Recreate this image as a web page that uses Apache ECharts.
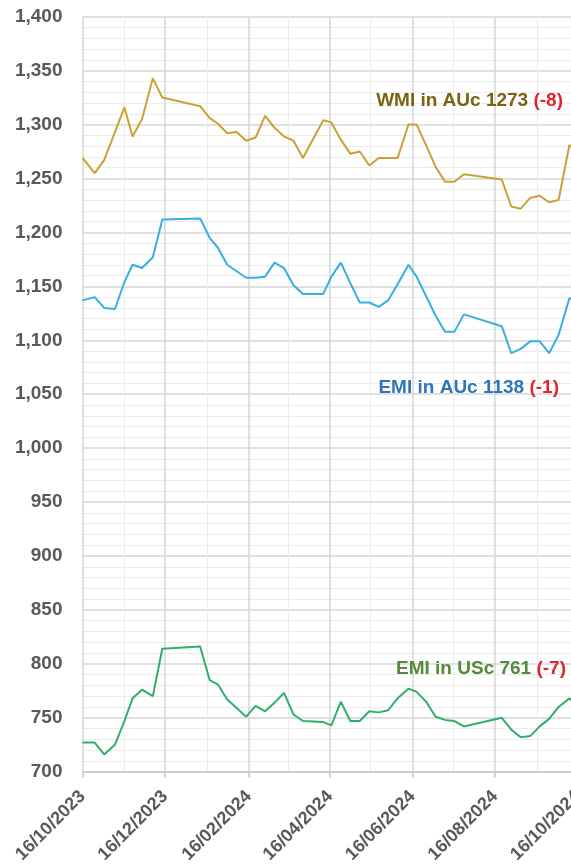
<!DOCTYPE html>
<html>
<head>
<meta charset="utf-8">
<script src="https://cdn.jsdelivr.net/npm/echarts@6/dist/echarts.min.js"></script>
<style>
html, body { margin: 0; padding: 0; background: #fff; }
#chart { width: 571px; height: 864px; }
</style>
</head>
<body>
<div id="chart"></div>
<script>
// weekly indicator dates (sale weeks)
var dates = [
    '2023-10-16', '2023-10-25', '2023-11-01', '2023-11-09', '2023-11-16', '2023-11-22', '2023-11-29',
    '2023-12-07', '2023-12-14', '2024-01-11', '2024-01-18', '2024-01-24', '2024-01-31', '2024-02-07',
    '2024-02-14', '2024-02-21', '2024-02-28', '2024-03-06', '2024-03-13', '2024-03-20', '2024-03-27',
    '2024-04-11', '2024-04-17', '2024-04-24', '2024-05-01', '2024-05-08', '2024-05-15', '2024-05-22',
    '2024-05-29', '2024-06-05', '2024-06-13', '2024-06-19', '2024-06-26', '2024-07-03', '2024-07-10',
    '2024-07-17', '2024-07-24', '2024-08-21', '2024-08-28', '2024-09-04', '2024-09-11', '2024-09-18',
    '2024-09-25', '2024-10-02', '2024-10-10', '2024-10-17'
];
var wmiAUc = [
    1269, 1255, 1267, 1293, 1316, 1289, 1305,
    1343, 1325, 1317, 1306, 1301, 1292, 1293,
    1285, 1288, 1308, 1297, 1289, 1285, 1269,
    1304, 1302, 1286, 1273, 1275, 1262, 1269,
    1269, 1269, 1300, 1300, 1281, 1261, 1247,
    1247, 1254, 1249, 1224, 1222, 1232, 1234,
    1228, 1230, 1281, 1273
];
var emiAUc = [
    1137, 1140, 1130, 1129, 1154, 1170, 1167,
    1177, 1212, 1213, 1195, 1186, 1170, 1164,
    1158, 1158, 1159, 1172, 1167, 1151, 1143,
    1143, 1159, 1172, 1153, 1135, 1135, 1131,
    1137, 1152, 1170, 1159, 1141, 1123, 1108,
    1108, 1124, 1113, 1088, 1092, 1099, 1099,
    1088, 1105, 1139, 1138
];
var emiUSc = [
    727, 727, 716, 725, 747, 768, 776,
    770, 814, 816, 785, 781, 767, 759,
    751, 761, 756, 764, 773, 753, 747,
    746, 743, 765, 747, 747, 756, 755,
    757, 768, 777, 774, 765, 751, 748,
    747, 742, 750, 739, 732, 733, 742,
    749, 760, 768, 761
];
var majorTicks = ['2023-10-16', '2023-12-16', '2024-02-16', '2024-04-16', '2024-06-16', '2024-08-16', '2024-10-16'];
var minorTicks = ['2023-11-16', '2024-01-16', '2024-03-16', '2024-05-16', '2024-07-16', '2024-09-16'];
var seriesNames = ['WMI in AUc', 'EMI in AUc', 'EMI in USc'];
var lastValues = [1273, 1138, 761];
var changes = [-8, -1, -7];

function ts(s) {
    var p = s.split('-');
    return new Date(+p[0], +p[1] - 1, +p[2]).getTime();
}
function pad(n) { return n < 10 ? '0' + n : '' + n; }
function fmtDate(v) {
    var d = new Date(v);
    return pad(d.getDate()) + '/' + pad(d.getMonth() + 1) + '/' + d.getFullYear();
}
function pairs(vals) {
    return vals.map(function (v, i) { return [ts(dates[i]), v]; });
}

var font = '"Liberation Sans", Arial, sans-serif';
var xMin = ts('2023-10-16'), xMax = ts('2024-10-23');
var colors = ['#C9A136', '#38AEE2', '#30AF6C'];
var textColors = ['#7B6214', '#2E76B8', '#558A3A'];

var chart = echarts.init(document.getElementById('chart'));

function annot(i, x, y) {
    return {
        type: 'text',
        x: x,
        y: y,
        style: {
            text: '{a|' + seriesNames[i] + ' ' + lastValues[i] + ' }{b|(' + changes[i] + ')}',
            align: 'right',
            verticalAlign: 'middle',
            rich: {
                a: { fill: textColors[i], fontSize: 19, fontWeight: 'bold', fontFamily: font },
                b: { fill: '#E0262B', fontSize: 19, fontWeight: 'bold', fontFamily: font }
            }
        },
        z: 100
    };
}

var option = {
    animation: false,
    backgroundColor: '#fff',
    // plot runs past the right edge of the picture, like the cropped original
    grid: { left: 82.5, top: 16.7, width: 504.5, height: 755, outerBoundsMode: 'none', containLabel: false },
    xAxis: [{
        type: 'value',
        min: xMin,
        max: xMax,
        position: 'bottom',
        axisLine: { show: false },
        axisTick: { show: false, customValues: minorTicks.map(ts) },
        axisLabel: { show: false },
        splitLine: { show: true, lineStyle: { color: '#ebebeb', width: 1 } }
    }, {
        type: 'value',
        min: xMin,
        max: xMax,
        position: 'bottom',
        axisLine: { show: true, onZero: false, lineStyle: { color: '#c8c8c8', width: 1.5 } },
        axisTick: { show: true, length: 6, customValues: majorTicks.map(ts), lineStyle: { color: '#c8c8c8', width: 1.5 } },
        axisLabel: {
            customValues: majorTicks.map(ts),
            rotate: 45,
            margin: 22,
            color: '#595959',
            fontSize: 18,
            fontWeight: 'bold',
            fontFamily: font,
            formatter: fmtDate
        },
        splitLine: { show: true, lineStyle: { color: '#d6d6d6', width: 1.5 } }
    }],
    yAxis: {
        type: 'value',
        min: 700,
        max: 1400,
        interval: 50,
        axisLine: { show: false },
        axisTick: { show: false },
        axisLabel: {
            margin: 20,
            color: '#595959',
            fontSize: 19,
            fontWeight: 'bold',
            fontFamily: font,
            formatter: function (v) { return v.toLocaleString('en-US'); }
        },
        splitLine: { lineStyle: { color: '#d6d6d6', width: 1.5 } },
        minorTick: { show: false, splitNumber: 5 },
        minorSplitLine: { show: true, lineStyle: { color: '#ebebeb', width: 1 } }
    },
    series: [
        { name: seriesNames[0], type: 'line', xAxisIndex: 0, data: pairs(wmiAUc), showSymbol: false, lineStyle: { color: colors[0], width: 2 }, itemStyle: { color: colors[0] } },
        { name: seriesNames[1], type: 'line', xAxisIndex: 0, data: pairs(emiAUc), showSymbol: false, lineStyle: { color: colors[1], width: 2 }, itemStyle: { color: colors[1] } },
        { name: seriesNames[2], type: 'line', xAxisIndex: 0, data: pairs(emiUSc), showSymbol: false, lineStyle: { color: colors[2], width: 2 }, itemStyle: { color: colors[2] } }
    ],
    graphic: [annot(0, 563, 101), annot(1, 559, 388), annot(2, 566, 669)]
};
chart.setOption(option);
</script>
</body>
</html>
